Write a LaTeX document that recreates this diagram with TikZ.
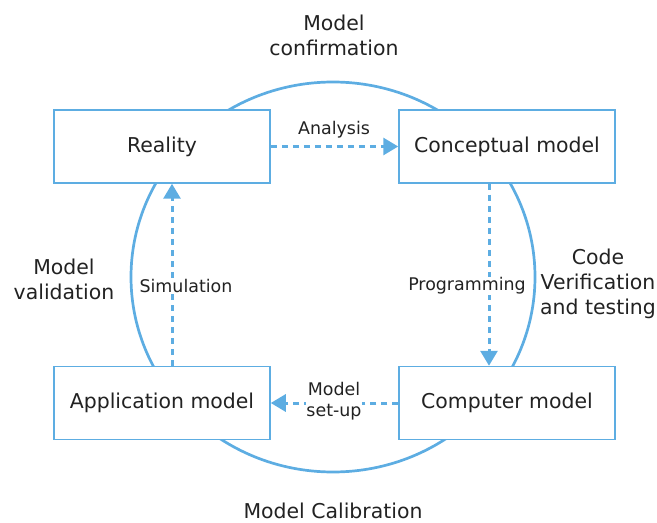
\documentclass[tikz,border=0pt]{standalone}
\usepackage{fontspec}
\setmainfont{DejaVu Sans}
\usetikzlibrary{arrows.meta}
\definecolor{cycleblue}{RGB}{93,173,226}
\definecolor{inkgray}{RGB}{34,34,34}
\begin{document}
\begin{tikzpicture}[x=1bp,y=-1bp,
  stagebox/.style={draw=cycleblue, line width=1.5bp, fill=white, minimum width=216bp, minimum height=73bp, text=inkgray, font=\fontsize{20.5}{24}\selectfont, inner sep=0pt},
  flow/.style={draw=cycleblue, line width=3bp, dash pattern=on 6bp off 5bp, -{Triangle[length=15bp,width=17bp]}},
  flowlabel/.style={text=inkgray, font=\fontsize{17.5}{21}\selectfont, align=center, inner sep=1bp},
  outerlabel/.style={text=inkgray, font=\fontsize{20.5}{25}\selectfont, align=center, inner sep=0pt}]
\useasboundingbox (0,0) rectangle (657,523);
% the cycle ring behind the stages
\draw[cycleblue, line width=2.7bp] (333,277) ellipse [x radius=202, y radius=195];
% stages
\node[stagebox] (reality) at (162,146.5) {Reality};
\node[stagebox] (concept) at (507,146.5) {Conceptual model};
\node[stagebox] (applic) at (162,403) {Application model};
\node[stagebox] (computer) at (507,403) {Computer model};
% transitions
\draw[flow] (reality.east) -- (concept.west);
\node[flowlabel] (analysis) at (334,130) {Analysis};
\draw[flow] ([xshift=-18bp]concept.south) -- ([xshift=-18bp]computer.north);
\node[flowlabel, fill=white] (programming) at (467,286) {Programming};
\draw[flow] (computer.west) -- (applic.east);
\node[flowlabel, fill=white, inner sep=0pt] (setup) at (334,401) {Model\\set-up};
\draw[flow] ([xshift=10bp]applic.north) -- ([xshift=10bp]reality.south);
\node[flowlabel, fill=white] (simulation) at (186,286) {Simulation};
% phases of the cycle
\node[outerlabel] (confirm) at (334,35) {Model\\confirmation};
\node[outerlabel] (verif) at (598,284) {Code\\Verification\\and testing};
\node[outerlabel] (valid) at (64,279) {Model\\validation};
\node[outerlabel, anchor=base] (calib) at (333,518.5) {Model Calibration};
\end{tikzpicture}
\end{document}
